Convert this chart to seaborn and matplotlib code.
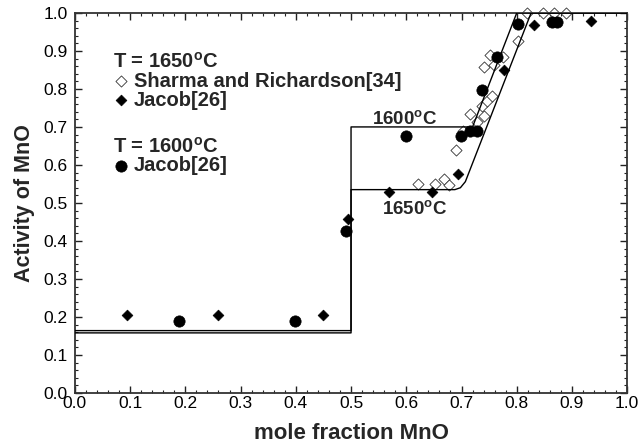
import numpy as np
import matplotlib
matplotlib.use("Agg")
import matplotlib.pyplot as plt
from matplotlib.ticker import MultipleLocator, FormatStrFormatter
import seaborn as sns

# model curves
line1650_x = [0.0, 0.5, 0.5, 0.688, 0.698, 0.707, 0.826, 1.0]
line1650_y = [0.158, 0.158, 0.535, 0.535, 0.540, 0.556, 1.0, 1.0]
line1600_x = [0.0, 0.5, 0.5, 0.720, 0.800, 1.0]
line1600_y = [0.164, 0.164, 0.700, 0.700, 1.0, 1.0]

# Sharma and Richardson, 1650 C (open diamonds)
sharma_x = [0.622, 0.652, 0.669, 0.678, 0.690, 0.703, 0.716, 0.728, 0.740, 0.737,
            0.746, 0.755, 0.741, 0.751, 0.758, 0.776, 0.803, 0.818, 0.848, 0.868, 0.889]
sharma_y = [0.550, 0.550, 0.563, 0.548, 0.640, 0.690, 0.734, 0.712, 0.730, 0.756,
            0.768, 0.782, 0.857, 0.889, 0.862, 0.885, 0.926, 0.999, 0.999, 0.999, 0.999]

# Jacob, 1650 C (filled diamonds)
jacob1650_x = [0.095, 0.26, 0.45, 0.494, 0.568, 0.647, 0.693, 0.777, 0.832, 0.934]
jacob1650_y = [0.205, 0.205, 0.205, 0.457, 0.530, 0.528, 0.577, 0.850, 0.967, 0.978]

# Jacob, 1600 C (filled circles)
jacob1600_x = [0.189, 0.398, 0.490, 0.600, 0.699, 0.716, 0.728, 0.737, 0.764, 0.803, 0.863, 0.872]
jacob1600_y = [0.190, 0.190, 0.425, 0.675, 0.675, 0.690, 0.690, 0.797, 0.885, 0.972, 0.977, 0.977]

ticks = np.round(np.arange(0, 1.01, 0.1), 1)

sns.set_theme(style="ticks")
plt.rcParams["font.family"] = ["Liberation Sans", "DejaVu Sans"]
plt.rcParams["mathtext.fontset"] = "custom"
plt.rcParams["mathtext.rm"] = "Liberation Sans:bold"
plt.rcParams["mathtext.it"] = "Liberation Sans:bold"
plt.rcParams["mathtext.bf"] = "Liberation Sans:bold"

fig, ax = plt.subplots(figsize=(6.4, 4.46), dpi=100)
fig.subplots_adjust(left=0.117, right=0.98, bottom=0.119, top=0.971)

sns.lineplot(x=line1650_x, y=line1650_y, sort=False, estimator=None,
             color="black", lw=1.0, ax=ax, zorder=3)
sns.lineplot(x=line1600_x, y=line1600_y, sort=False, estimator=None,
             color="black", lw=1.0, ax=ax, zorder=3)

sns.scatterplot(x=sharma_x, y=sharma_y, marker="D", s=32, color="white",
                edgecolor="#333333", linewidth=0.6, ax=ax, clip_on=False, zorder=2)
h_sharma = ax.collections[-1]
sns.scatterplot(x=jacob1650_x, y=jacob1650_y, marker="D", s=30, color="black",
                edgecolor="black", linewidth=0.5, ax=ax, clip_on=False, zorder=2)
h_j1650 = ax.collections[-1]
sns.scatterplot(x=jacob1600_x, y=jacob1600_y, marker="o", s=66, color="black",
                edgecolor="black", linewidth=0.5, ax=ax, clip_on=False, zorder=2)
h_j1600 = ax.collections[-1]

ax.text(0.538, 0.709, "1600$^{\\mathrm{o}}$C", fontsize=13.5, fontweight="bold",
        va="baseline", ha="left")
ax.text(0.556, 0.470, "1650$^{\\mathrm{o}}$C", fontsize=13.5, fontweight="bold",
        va="baseline", ha="left")

leg_kw = dict(loc="upper left", frameon=False, alignment="left",
              prop={"weight": "bold", "size": 14.5},
              title_fontproperties={"weight": "bold", "size": 14.5},
              handlelength=0.8, handletextpad=0.25, labelspacing=0.0,
              borderpad=0, borderaxespad=0)
leg1 = ax.legend(handles=[h_sharma, h_j1650],
                 labels=["Sharma and Richardson[34]", "Jacob[26]"],
                 title="T = 1650$^{\\mathrm{o}}$C", bbox_to_anchor=(0.069, 0.898), **leg_kw)
ax.add_artist(leg1)
ax.legend(handles=[h_j1600], labels=["Jacob[26]"],
          title="T = 1600$^{\\mathrm{o}}$C", bbox_to_anchor=(0.069, 0.675), **leg_kw)

ax.set_xlim(0, 1)
ax.set_ylim(0, 1)
ax.set_xticks(ticks)
ax.set_yticks(ticks)
ax.xaxis.set_major_formatter(FormatStrFormatter("%.1f"))
ax.yaxis.set_major_formatter(FormatStrFormatter("%.1f"))
ax.xaxis.set_minor_locator(MultipleLocator(0.02))
ax.yaxis.set_minor_locator(MultipleLocator(0.02))
ax.tick_params(which="both", direction="in", top=True, right=True,
               colors="#222222", labelcolor="black")
ax.tick_params(which="major", length=5, width=1, labelsize=12.5)
ax.tick_params(axis="x", which="major", pad=2)
ax.tick_params(axis="y", which="major", pad=5)
ax.tick_params(which="minor", length=2.5, width=0.8)
for sp in ax.spines.values():
    sp.set_linewidth(1.3)
    sp.set_color("#333333")

ax.set_xlabel("mole fraction MnO", fontsize=16, fontweight="bold", labelpad=8.5)
ax.set_ylabel("Activity of MnO", fontsize=15.5, fontweight="bold", labelpad=6)

fig.savefig("out.png", dpi=100)
